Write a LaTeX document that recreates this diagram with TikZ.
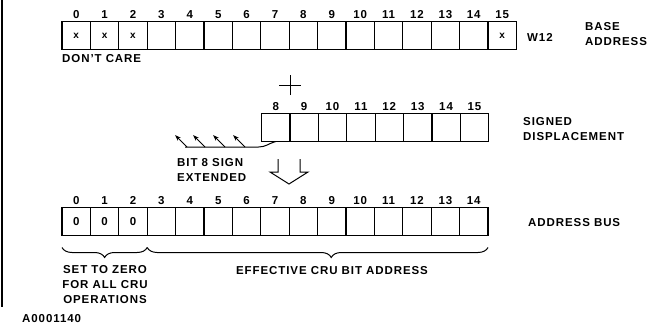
\documentclass[tikz,border=0pt]{standalone}
\usepackage{fontspec}
\setmainfont{Liberation Sans}[LetterSpace=8]
\usetikzlibrary{positioning,decorations.pathreplacing,arrows.meta}

\begin{document}
\begin{tikzpicture}[
  x=1pt,y=1pt,
  cell/.style={draw,line width=1.2pt,minimum width=28.4pt,minimum height=28pt,
    inner sep=0pt,outer sep=0pt},
  lbl/.style={font=\fontsize{11.5pt}{15pt}\selectfont\bfseries,inner sep=0pt},
  num/.style={lbl},
  bit/.style={font=\fontsize{10pt}{11pt}\selectfont\bfseries,inner sep=0pt},
  thin/.style={line width=1pt}
]
\useasboundingbox (0,0) rectangle (649,325);

% ---- left rule ----
\draw[line width=1.3pt] (2,325) -- (2,18);

% ---- TOP: W12 base address ----
\foreach \i in {0,...,15} {
  \node[cell] (w\i) at ({62+28.4*(\i+0.5)},289.5) {};
  \node[num,above=3pt of w\i] (wn\i) {\i};
}
\foreach \i in {0,1,2,15}
  \node[bit] (wx\i) at (w\i) {x};
\node[lbl,anchor=west] (dontcare) at (62,266) {DON'T CARE};
\node[lbl,anchor=west] (w12) at (527,288) {W12};
\node[lbl,anchor=west,align=left] (base) at (585,290.5) {BASE\\ADDRESS};

% Plus sign
\coordinate (plus) at (290,240);
\draw[thin] ([xshift=-11pt]plus) -- ([xshift=11pt]plus);
\draw[thin] ([yshift=-10pt]plus) -- ([yshift=10pt]plus);

% ---- MIDDLE: signed displacement ----
\foreach \i in {8,...,15} {
  \node[cell] (d\i) at ({261.5+28.4*(\i-8+0.5)},197.5) {};
  \node[num,above=3pt of d\i] (dn\i) {\i};
}
\node[lbl,anchor=west,align=left] (sdisp) at (523,195.5) {SIGNED\\DISPLACEMENT};

% Sign extension arrows
\coordinate (ext) at (185,178);
\draw[thin] (d8.south) to[out=195,in=0] ++(-17,-5.5) -- (ext);
\foreach \x [count=\k] in {187,205,225,245} {
  \coordinate (s\k) at (\x,178);
  \draw[thin,-{Stealth[length=6pt,width=4pt]}] (s\k) -- ++(-12,12);
}
\node[lbl,anchor=west,align=left] (sign) at (177,155.5) {BIT 8 SIGN\\EXTENDED};

% Hollow down arrow
\draw[thin] (278,166) -- (278,153) -- (270,153) -- (289,141)
  -- (308,153) -- (300,153) -- (300,166);

% ---- BOTTOM: address bus ----
\foreach \i in {0,...,14} {
  \node[cell] (a\i) at ({62+28.4*(\i+0.5)},103.5) {};
  \node[num,above=3pt of a\i] (an\i) {\i};
}
\foreach \i in {0,1,2}
  \node[lbl] (az\i) at (a\i) {0};
\node[lbl,anchor=west] (abus) at (528,102) {ADDRESS BUS};

% Braces
\draw[thin,decorate,decoration={brace,mirror,amplitude=10pt}]
  ([yshift=-12pt]a0.south west) -- ([yshift=-12pt]a2.south east);
\draw[thin,decorate,decoration={brace,mirror,amplitude=10pt,aspect=0.54}]
  ([yshift=-12pt]a2.south east) -- ([yshift=-12pt]a14.south east);
\node[lbl,align=center] (zero) at (105,40) {SET TO ZERO\\FOR ALL CRU\\OPERATIONS};
\node[lbl] (eff) at (332,54) {EFFECTIVE CRU BIT ADDRESS};

% Figure number
\node[lbl,anchor=base west] (fig) at (22,2.5) {A0001140};
\end{tikzpicture}
\end{document}
